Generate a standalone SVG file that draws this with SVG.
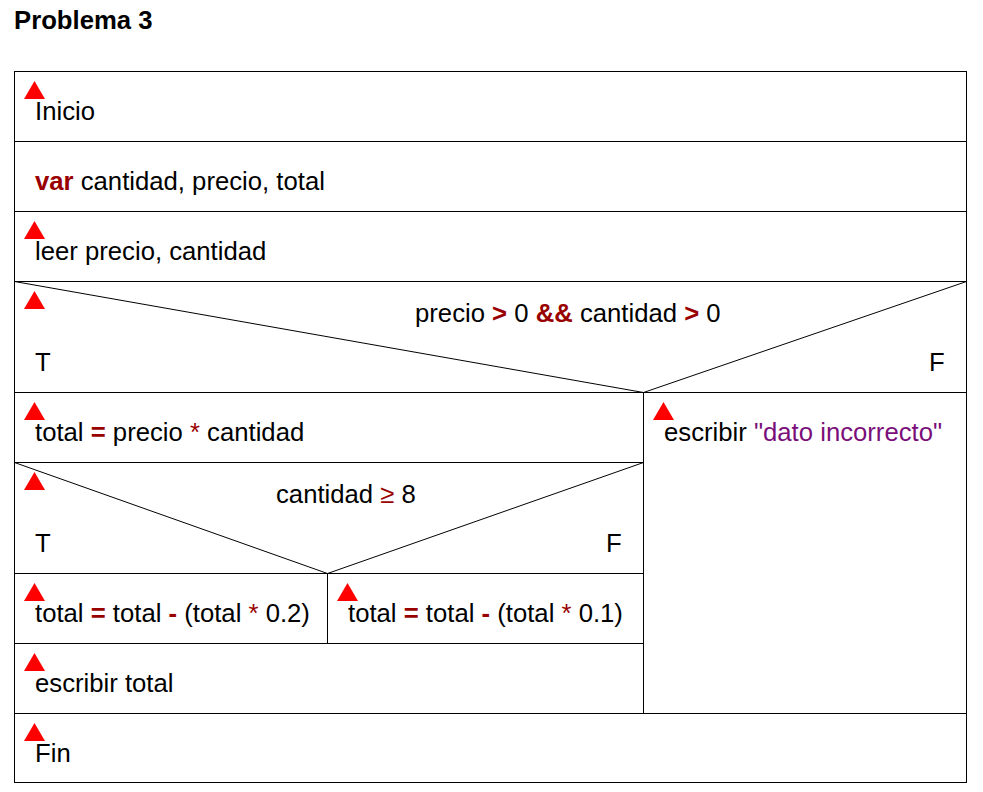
<svg xmlns="http://www.w3.org/2000/svg" width="983" height="792" viewBox="0 0 983 792">
<style>
text{font-family:"Liberation Sans",Arial,sans-serif;font-size:25.7px;fill:#000}
.t{font-weight:bold}
.k{fill:#990000;font-weight:bold}
.o{fill:#990000}
.s{fill:#7a0f7a}
.ln{stroke:#000;stroke-width:1;fill:none}
.tri{fill:#ff0000}
</style>
<defs>
<path id="tr" d="M10.5 0 L21 18 L0 18 Z" class="tri"/>
</defs>
<rect width="983" height="792" fill="#fff"/>
<text x="14" y="29" class="t" style="font-size:25.7px">Problema 3</text>
<g id="connectors">
<rect x="14.5" y="71.5" width="952" height="711" class="ln"/>
<line x1="14" y1="141.5" x2="967" y2="141.5" class="ln"/>
<line x1="14" y1="211.5" x2="967" y2="211.5" class="ln"/>
<line x1="14" y1="281.5" x2="967" y2="281.5" class="ln"/>
<line x1="14" y1="392.5" x2="967" y2="392.5" class="ln"/>
<line x1="14.5" y1="281.5" x2="643.5" y2="392.5" class="ln"/>
<line x1="966.5" y1="281.5" x2="643.5" y2="392.5" class="ln"/>
<line x1="643.5" y1="392" x2="643.5" y2="713" class="ln"/>
<line x1="14" y1="462.5" x2="644" y2="462.5" class="ln"/>
<line x1="14.5" y1="462.5" x2="327.5" y2="573.5" class="ln"/>
<line x1="643.5" y1="462.5" x2="327.5" y2="573.5" class="ln"/>
<line x1="14" y1="573.5" x2="644" y2="573.5" class="ln"/>
<line x1="327.5" y1="573" x2="327.5" y2="643" class="ln"/>
<line x1="14" y1="643.5" x2="644" y2="643.5" class="ln"/>
<line x1="14" y1="713.5" x2="967" y2="713.5" class="ln"/>
</g>
<g id="inicio"><use href="#tr" x="24" y="81"/><text x="35" y="120">Inicio</text></g>
<g id="var"><text x="35" y="190"><tspan class="k">var</tspan> cantidad, precio, total</text></g>
<g id="leer"><use href="#tr" x="24" y="221"/><text x="35" y="260">leer precio, cantidad</text></g>
<g id="cond1"><use href="#tr" x="24" y="291"/>
<text x="415" y="322">precio <tspan class="k">&gt;</tspan> 0 <tspan class="k">&amp;&amp;</tspan> cantidad <tspan class="k">&gt;</tspan> 0</text>
<text x="35" y="371">T</text><text x="929" y="371">F</text></g>
<g id="calc"><use href="#tr" x="24" y="402"/><text x="35" y="441">total <tspan class="k">=</tspan> precio <tspan class="o">*</tspan> cantidad</text></g>
<g id="cond2"><use href="#tr" x="24" y="472"/>
<text x="276" y="503">cantidad <tspan class="o">≥</tspan> 8</text>
<text x="35" y="552">T</text><text x="606" y="552">F</text></g>
<g id="desc2"><use href="#tr" x="24" y="583"/><text x="35" y="622">total <tspan class="k">=</tspan> total <tspan class="k">-</tspan> (total <tspan class="o">*</tspan> 0.2)</text></g>
<g id="desc1"><use href="#tr" x="337" y="583"/><text x="348" y="622">total <tspan class="k">=</tspan> total <tspan class="k">-</tspan> (total <tspan class="o">*</tspan> 0.1)</text></g>
<g id="escribir"><use href="#tr" x="24" y="653"/><text x="35" y="692">escribir total</text></g>
<g id="error"><use href="#tr" x="653" y="402"/><text x="664" y="441">escribir <tspan class="s">"dato incorrecto"</tspan></text></g>
<g id="fin"><use href="#tr" x="24" y="723"/><text x="35" y="762">Fin</text></g>
</svg>
